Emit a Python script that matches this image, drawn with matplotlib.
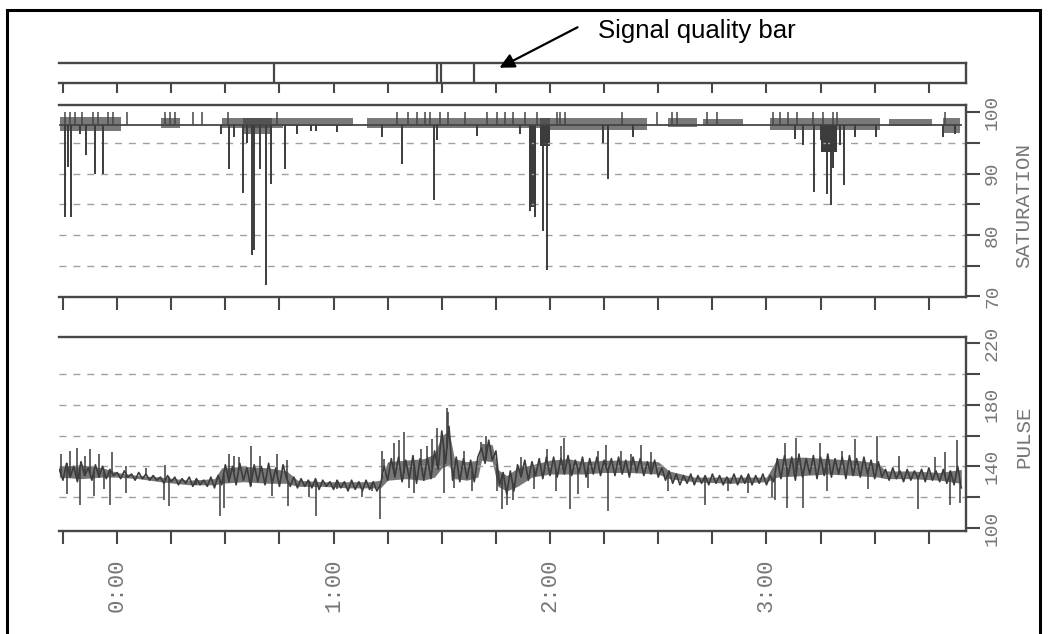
import matplotlib
matplotlib.use("Agg")
import matplotlib.pyplot as plt
import numpy as np
from matplotlib.lines import Line2D

# ---------------- data (time in minutes from 0:00) ----------------
x_ticks = [-15, 0, 15, 30, 45, 60, 75, 90, 105, 120, 135, 150, 165, 180, 195, 210, 225]
x_tick_labels = ["", "0:00", "", "", "", "1:00", "", "", "", "2:00", "", "", "", "3:00", "", "", ""]

# signal quality bar: segment boundaries
quality_breaks = [43.5, 88.7, 89.8, 98.9]

# saturation
sat_ticks = [70, 75, 80, 85, 90, 95, 100]
sat_tick_labels = ["70", "", "80", "", "90", "", "100"]
sat_grid = [75, 80, 85, 90, 95]
sat_base = 98
sat_start, sat_end = -15.9, 233.8
# fuzz zones: start, end, low, high
fuzz_t0 = [-15.9, 12.3, 29.0, 35.0, 46.0, 69.2, 117.2, 152.7, 162.4, 181.0, 214.0, 229.0]
fuzz_t1 = [1.2, 17.4, 46.0, 43.0, 65.4, 120.0, 146.8, 160.7, 173.5, 211.5, 226.0, 233.7]
fuzz_lo = [97.0, 97.4, 97.4, 96.4, 97.7, 97.4, 97.2, 97.6, 97.7, 97.2, 97.7, 96.6]
fuzz_hi = [99.2, 99.0, 99.1, 99.0, 99.0, 99.1, 99.0, 99.0, 98.9, 99.1, 98.9, 99.0]
# short upward ticks
up_t = [-14.5, -13.1, -11.7, -9.8, -6.6, -5.2, -2.5, -1.1, 2.8, 13.3, 14.6, 16.0, 21.1, 23.4,
        30.8, 44.2, 77.5, 80.7, 83.0, 85.3, 86.7, 89.5, 91.8, 96.4, 102.4, 105.2, 107.5,
        109.8, 113.1, 116.3, 121.8, 122.8, 124.1, 139.9, 149.6, 153.7, 155.1, 163.4, 166.2,
        181.9, 183.8, 186.1, 188.4, 193.0, 195.8, 198.5, 199.5, 229.5]
up_v = 100
# desaturation dips
dip_t = [-14.5, -12.8, -13.6, -10.3, -8.6, -6.0, -3.9, 28.8, 31.0, 32.4, 34.8, 36.0, 37.4, 37.9,
         39.6, 41.4, 42.6, 46.6, 49.8, 53.7, 55.1, 60.9, 73.3, 79.0, 87.8, 88.6, 99.7, 111.7,
         114.4, 115.8, 118.1, 119.1, 134.8, 136.2, 143.0, 187.9, 190.2, 193.2, 195.1, 196.7,
         197.9, 198.5, 200.4, 201.6, 204.5, 210.4, 229.0, 232.3]
dip_v = [83.0, 83.0, 91.1, 96.5, 93.0, 90.0, 90.0, 96.5, 90.8, 96.0, 86.8, 95.0, 76.8, 77.5,
         90.8, 71.9, 88.4, 90.8, 96.5, 97.0, 97.0, 96.8, 96.0, 91.6, 85.7, 95.5, 96.2, 96.5,
         84.0, 83.0, 80.6, 74.3, 95.0, 89.1, 96.0, 95.7, 94.7, 87.0, 95.5, 86.7,
         84.9, 91.0, 94.7, 88.1, 96.0, 96.0, 96.0, 96.5]
# dark dip blocks: start, end, low
block_t0 = [114.2, 117.3, 195.0]
block_t1 = [116.0, 120.0, 199.5]
block_lo = [84.5, 94.5, 93.5]

# pulse: one reading per minute starting at -16 min
pulse_start = -16
pulse_a = [138, 131, 142, 133, 140, 130, 143, 134, 139, 131, 141, 133, 140, 132, 138, 134]
pulse_b = [136, 132, 137, 133, 135, 131, 136, 132, 135, 131, 134, 131]
pulse_c = [133, 129, 134, 130, 133, 128, 132, 129, 133, 127, 132, 128, 131, 127, 133, 126]
pulse_d = [134, 128, 141, 130, 140, 128, 142, 131, 139, 127, 141, 130, 140, 128, 142, 129, 139,
           127, 141]
pulse_e = [132, 127, 133, 126, 132, 127, 131, 126, 132, 125, 131, 127, 130, 125, 131, 126, 130,
           124, 131, 125, 130, 124, 131, 125, 130, 124]
pulse_f = [128, 140, 131, 145, 133, 146, 130, 144, 132, 147, 129, 145, 131, 146, 132]
pulse_g = [150, 138, 163, 142, 166, 131]
pulse_h = [146, 130, 145, 132, 144, 130, 146]
pulse_i = [152, 142, 157, 144, 150]
pulse_j = [128, 136, 122, 137, 124, 141]
pulse_k = [133, 144, 131, 143, 134, 145, 132, 146, 134]
pulse_l = [146, 133, 145, 135, 147, 134, 144, 136, 146, 133, 145, 135, 146, 134, 144, 136, 145,
           134, 146, 135, 144, 133, 146, 136, 145, 134, 143, 135, 144, 133]
pulse_m = [139, 131, 137]
pulse_n = [129, 135, 128, 134, 129, 135, 128, 134, 129, 134, 128, 135, 129, 134, 128, 133, 129,
           135, 128, 134, 129, 135, 128, 134, 129, 135, 128, 134, 130]
pulse_o = [145, 132, 147, 134, 146, 131, 148, 133, 145, 135, 147, 132, 146, 134, 148, 133, 145,
           135, 146, 132, 147, 134, 145, 133, 146, 135, 144, 132, 143]
pulse_p = [133, 138, 131, 139, 132, 137, 130, 138, 131, 137, 132, 138, 130, 139, 131, 137, 130,
           138, 129, 137, 128, 140, 126]
# dense core of the pulse trace (envelope read at a few times)
core_t = [-16, -10, -4, 0, 6, 12, 20, 27, 29, 35, 42, 47, 50, 57, 64, 70, 73, 75, 80, 85, 88,
          90, 92, 93.5, 97, 100, 101, 104, 105.5, 108, 111, 115, 120, 125, 129, 135, 142, 150,
          153, 160, 170, 180, 183, 190, 197, 205, 211, 213, 220, 228, 234]
core_lo = [133, 132, 133, 133, 132, 130, 128, 128, 129, 130, 129, 129, 127, 127, 126, 126, 126,
           131, 132, 131, 133, 139, 141, 132, 131, 133, 144, 143, 127, 124, 127, 133, 135, 135,
           135, 136, 136, 135, 132, 130, 129, 130, 133, 134, 135, 134, 133, 132, 132, 131, 129]
core_hi = [140, 141, 139, 136, 134, 133, 131, 132, 139, 140, 139, 137, 131, 130, 130, 130, 131,
           143, 144, 145, 148, 160, 163, 145, 143, 144, 155, 154, 138, 134, 139, 141, 144, 145,
           143, 144, 144, 143, 137, 133, 133, 133, 145, 146, 145, 144, 142, 137, 137, 136, 138]
spike_t = [-15.5, -14, -13, -11.2, -10.3, -9, -7.6, -6.5, -5, -3.5, -1.9, -1.5, 2.5, 2.6, 8,
           13.4, 12.9, 14.3, 22, 28.6, 29.5, 30.9, 32.3, 33.7, 37, 39.7, 43, 44.4, 47.1, 47.3,
           53.1, 55.2, 61, 68, 70.7, 73, 73.3, 74, 76.8, 78.2, 79.4, 81, 82.3, 84.2, 86, 87.4,
           88.8, 90.6, 91.4, 91.7, 93.4, 96.2, 98.5, 100.8, 102.2, 105.4, 106.8, 108.2, 109.6,
           111.9, 115.6, 119.3, 121.7, 123.1, 124, 125.4, 127.7, 130.5, 133.2, 135.6, 136,
           139.7, 142.5, 145.3, 148, 152.7, 162.9, 169.4, 174.9, 181.4, 182.3, 185.1, 185.6,
           188.3, 190.2, 194.8, 196.7, 200.8, 204.5, 208.2, 210.6, 216.6, 222.1, 226.8, 229.5,
           231, 232.8, 233.7]
spike_v = [148, 122, 150, 152, 115, 147, 151, 121, 148, 125, 115, 149, 140, 123, 139,
           141, 118, 114, 128, 108, 113, 148, 147, 146, 153.5, 147, 121, 148, 144, 114,
           120, 107.5, 125, 120, 124, 106, 150, 145, 155, 157, 162, 126, 123, 151, 153, 158,
           165, 123, 178, 175, 126, 150, 124, 156, 160, 124, 112, 115, 118,
           146, 125, 151, 124, 153, 158.7, 112, 122, 126, 150, 154, 111,
           150, 148, 154, 149, 124, 115, 124, 123, 120, 118, 155, 113,
           158.7, 113, 155, 124, 150, 158, 125, 160, 147, 112, 146, 149,
           115, 157, 116]
pulse_ticks = [100, 120, 140, 160, 180, 200, 220]
pulse_tick_labels = ["100", "", "140", "", "180", "", "220"]
pulse_grid = [120, 140, 160, 180, 200]

pulse = (pulse_a + pulse_b + pulse_c + pulse_d + pulse_e + pulse_f + pulse_g + pulse_h +
         pulse_i + pulse_j + pulse_k + pulse_l + pulse_m + pulse_n + pulse_o + pulse_p)
pulse_t = pulse_start + np.arange(len(pulse))

# ---------------- layout ----------------
W, H = 1048, 634
fig = plt.figure(figsize=(W / 100, H / 100), dpi=100)
fig.patch.set_facecolor("white")

def fx(px):
    return px / W

def fy(py):
    return 1 - py / H

X0, X1 = 59, 966
T_MIN, T_MAX = -16.1, 235.3
LINE = "#474747"
TRACE = "#3c3c3c"
TXT = "#767676"
GRID = "#a0a0a0"
MONO = "Liberation Mono"

ax_q = fig.add_axes([fx(X0), fy(83), fx(X1 - X0), (83 - 63) / H])
ax_s = fig.add_axes([fx(X0), fy(297), fx(X1 - X0), (297 - 105) / H])
ax_p = fig.add_axes([fx(X0), fy(531), fx(X1 - X0), (531 - 337) / H])

for ax in (ax_q, ax_s, ax_p):
    ax.set_xlim(T_MIN, T_MAX)
    ax.spines["left"].set_visible(False)
    for s in ("top", "bottom", "right"):
        ax.spines[s].set_color(LINE)
        ax.spines[s].set_linewidth(1.7)
    ax.set_xticks(x_ticks)
    ax.tick_params(axis="x", direction="out", length=9, width=1.5, color=LINE,
                   bottom=True, top=False, labelbottom=False)
    ax.tick_params(axis="y", left=False, labelleft=False)

# quality bar
ax_q.set_ylim(0, 1)
ax_q.set_yticks([])
ax_q.tick_params(axis="x", length=7)
for b in quality_breaks:
    ax_q.axvline(b, color=LINE, lw=1.6)

# saturation
ax_s.set_ylim(69.9, 101.2)
for g in sat_grid:
    ax_s.axhline(g, color=GRID, lw=1.0, ls=(0, (5, 5)))
ax_s.yaxis.tick_right()
ax_s.set_yticks(sat_ticks)
ax_s.set_yticklabels(sat_tick_labels, rotation=90, va="center", family=MONO,
                     fontsize=14, color=TXT)
ax_s.tick_params(axis="y", right=True, direction="out", length=10, width=1.5,
                 color=LINE, pad=3, labelright=True)
ax_s.plot([sat_start, sat_end], [sat_base, sat_base], color=LINE, lw=1.3)
for a, b, lo, hi in zip(fuzz_t0, fuzz_t1, fuzz_lo, fuzz_hi):
    ax_s.fill_between([a, b], [lo, lo], [hi, hi], color="#454545", alpha=0.72, lw=0)
for a, b, lo in zip(block_t0, block_t1, block_lo):
    ax_s.fill_between([a, b], [lo, lo], [sat_base, sat_base], color=TRACE, lw=0)
ax_s.vlines(up_t, sat_base, up_v, color=LINE, lw=1.1)
ax_s.vlines(dip_t, dip_v, sat_base, color=TRACE, lw=1.4)

# pulse
ax_p.set_ylim(98, 224)
for g in pulse_grid:
    ax_p.axhline(g, color=GRID, lw=1.0, ls=(0, (5, 5)))
ax_p.yaxis.tick_right()
ax_p.set_yticks(pulse_ticks)
ax_p.set_yticklabels(pulse_tick_labels, rotation=90, va="center", family=MONO,
                     fontsize=14, color=TXT)
ax_p.tick_params(axis="y", right=True, direction="out", length=10, width=1.5,
                 color=LINE, pad=3, labelright=True)
ax_p.fill_between(core_t, core_lo, core_hi, color="#555555", alpha=0.8, lw=0)
ax_p.plot(pulse_t, pulse, color=TRACE, lw=1.2)
mid = np.interp(spike_t, pulse_t, pulse)
ax_p.vlines(spike_t, mid, spike_v, color=TRACE, lw=1.1)
ax_p.tick_params(axis="x", labelbottom=True, length=9, pad=11)
ax_p.set_xticklabels(x_tick_labels, rotation=90, ha="center", va="top", family=MONO,
                     fontsize=16, color=TXT)

# axis titles on the right
fig.text(fx(1024), fy(205), "SATURATION", rotation=90, ha="center", va="center",
         family=MONO, fontsize=15, color=TXT)
fig.text(fx(1024), fy(437), "PULSE", rotation=90, ha="center", va="center",
         family=MONO, fontsize=15, color=TXT)

# annotation
fig.text(fx(598), fy(38), "Signal quality bar", family="Liberation Sans", fontsize=18.5,
         color="black", va="baseline", ha="left")
ax_q.annotate("", xy=(497, H - 69), xytext=(580, H - 26), xycoords="figure pixels",
              textcoords="figure pixels",
              arrowprops=dict(arrowstyle="-|>", color="black", lw=1.6, mutation_scale=22))

# outer frame
for xs, ys in (([7, 7], [634, 10]), ([7, 1040], [10, 10]), ([1040, 1040], [10, 634])):
    fig.add_artist(Line2D([fx(v) for v in xs], [fy(v) for v in ys],
                          transform=fig.transFigure, color="black", lw=2.2))

fig.savefig("out.png", dpi=100, facecolor="white")
